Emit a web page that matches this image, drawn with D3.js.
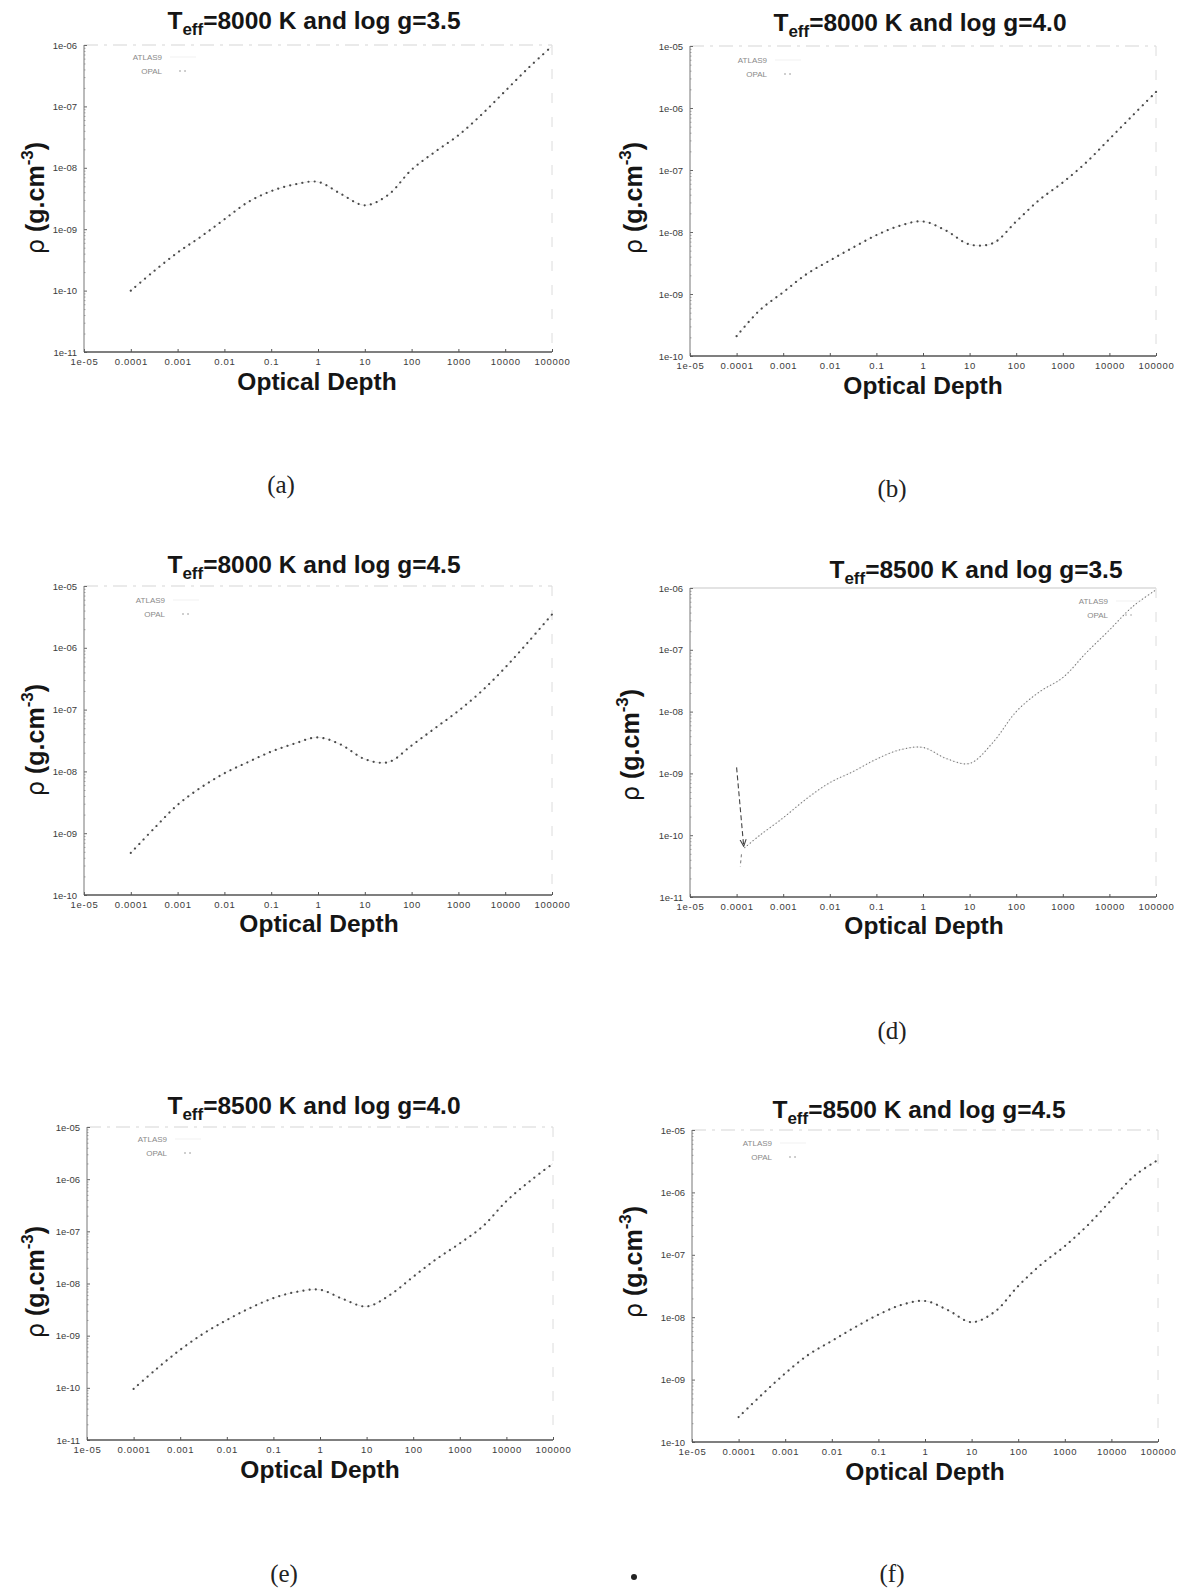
<!DOCTYPE html>
<html>
<head>
<meta charset="utf-8">
<script src="https://cdn.jsdelivr.net/npm/d3@7"></script>
<style>
  body { margin: 0; background: #fff; }
  svg { display: block; }
</style>
</head>
<body>
<svg id="fig" width="1186" height="1590"></svg>
<script>
// Density profiles rho(tau) of model atmospheres, ATLAS9 vs OPAL opacities.

// Optical-depth sampling (shared by all panels except (d), which starts deeper)
const tauGrid  = [1e-4, 3.16e-4, 1e-3, 3.16e-3, 0.01, 0.0316, 0.1, 0.316, 1, 3.16, 10, 31.6, 100, 316, 1000, 3160, 1e4, 3.16e4, 1e5];
const tauGridD = [1.5e-4, 3.16e-4, 1e-3, 3.16e-3, 0.01, 0.0316, 0.1, 0.316, 1, 3.16, 10, 31.6, 100, 316, 1000, 3160, 1e4, 3.16e4, 1e5];

// Density (g cm^-3) at each optical depth
const rhoA = [1.0e-10, 2.09e-10, 4.17e-10, 7.59e-10, 1.45e-9, 2.75e-9, 4.17e-9, 5.37e-9, 5.89e-9, 3.72e-9, 2.45e-9, 3.63e-9, 9.33e-9, 1.82e-8, 3.39e-8, 7.41e-8, 1.78e-7, 4.27e-7, 9.55e-7];
const rhoB = [2.09e-10, 5.5e-10, 1.07e-9, 2.09e-9, 3.47e-9, 5.62e-9, 8.91e-9, 1.26e-8, 1.48e-8, 1.05e-8, 6.3e-9, 6.6e-9, 1.48e-8, 3.31e-8, 6.31e-8, 1.32e-7, 3.16e-7, 7.59e-7, 1.82e-6];
const rhoC = [4.79e-10, 1.2e-9, 2.88e-9, 5.5e-9, 9.33e-9, 1.41e-8, 2.09e-8, 2.82e-8, 3.55e-8, 2.69e-8, 1.58e-8, 1.41e-8, 2.63e-8, 5.01e-8, 9.55e-8, 2.0e-7, 4.79e-7, 1.26e-6, 3.47e-6];
const rhoD = [6.31e-11, 1.0e-10, 1.91e-10, 3.89e-10, 7.08e-10, 1.07e-9, 1.7e-9, 2.4e-9, 2.63e-9, 1.74e-9, 1.45e-9, 3.16e-9, 1.0e-8, 2.09e-8, 3.55e-8, 8.91e-8, 2.09e-7, 5.01e-7, 9.33e-7];
const rhoE = [9.55e-11, 2.34e-10, 5.37e-10, 1.1e-9, 2.0e-9, 3.39e-9, 5.25e-9, 6.92e-9, 7.59e-9, 5.01e-9, 3.63e-9, 6.03e-9, 1.35e-8, 2.95e-8, 5.89e-8, 1.26e-7, 3.8e-7, 9.12e-7, 2.0e-6];
const rhoF = [2.51e-10, 5.75e-10, 1.26e-9, 2.51e-9, 4.17e-9, 6.92e-9, 1.1e-8, 1.58e-8, 1.82e-8, 1.29e-8, 8.32e-9, 1.23e-8, 3.16e-8, 7.08e-8, 1.38e-7, 3.02e-7, 7.59e-7, 1.86e-6, 3.31e-6];

// Model parameters and sub-figure captions
const teffValues = [8000, 8000, 8000, 8500, 8500, 8500];
const loggValues = ["3.5", "4.0", "4.5", "3.5", "4.0", "4.5"];
const captions   = ["(a)", "(b)", "", "(d)", "(e)", "(f)"];

// Axis ranges (density decades) and tick labels
const yDomains = [[1e-11, 1e-6], [1e-10, 1e-5], [1e-10, 1e-5], [1e-11, 1e-6], [1e-11, 1e-5], [1e-10, 1e-5]];
const xTickValues = [1e-5, 1e-4, 1e-3, 1e-2, 0.1, 1, 10, 100, 1000, 1e4, 1e5];
const xTickLabels = ["1e-05", "0.0001", "0.001", "0.01", "0.1", "1", "10", "100", "1000", "10000", "100000"];
const seriesNames = ["ATLAS9", "OPAL"];

// Arrow annotation in panel (d): start and end (tau, rho), plus the short tail below it
const arrowD = [[1.0e-4, 1.25e-9], [1.42e-4, 6.6e-11]];
const tailD  = [[1.27e-4, 4.9e-11], [1.2e-4, 3.1e-11]];

// ---------- layout ----------
const layout = [
  { x0: 84,  x1: 552,  yb: 352,  yt: 45,  title: [314, 20],  xlab: [317, 381],  ylab: [36, 198],   leg: [162, 57],  cap: [281, 485] },
  { x0: 690, x1: 1156, yb: 356,  yt: 46,  title: [920, 22],  xlab: [923, 385],  ylab: [634, 198],  leg: [767, 60],  cap: [892, 489] },
  { x0: 84,  x1: 552,  yb: 895,  yt: 586, title: [314, 564], xlab: [319, 923],  ylab: [36, 740],   leg: [165, 600], cap: [281, 1024] },
  { x0: 690, x1: 1156, yb: 897,  yt: 588, title: [976, 569], xlab: [924, 925],  ylab: [631, 745],  leg: [1108, 601], cap: [892, 1031] },
  { x0: 87,  x1: 553,  yb: 1440, yt: 1127, title: [314, 1105], xlab: [320, 1469], ylab: [36, 1282], leg: [167, 1139], cap: [284, 1574] },
  { x0: 692, x1: 1158, yb: 1442, yt: 1130, title: [919, 1109], xlab: [925, 1471], ylab: [634, 1262], leg: [772, 1143], cap: [892, 1574] }
];

const rhoSeries = [rhoA, rhoB, rhoC, rhoD, rhoE, rhoF];
const tauSeries = [tauGrid, tauGrid, tauGrid, tauGridD, tauGrid, tauGrid];

const svg = d3.select("#fig");
const SANS = "'Liberation Sans', Arial, Helvetica, sans-serif";

const defs = svg.append("defs");
defs.append("marker")
  .attr("id", "arrowHead")
  .attr("viewBox", "0 0 10 10")
  .attr("refX", 9).attr("refY", 5)
  .attr("markerWidth", 7).attr("markerHeight", 7)
  .attr("orient", "auto")
  .append("path")
  .attr("d", "M0,1 L9,5 L0,9")
  .attr("fill", "none")
  .attr("stroke", "#444")
  .attr("stroke-width", 1.4);

const expLabel = v => {
  const e = Math.round(Math.log10(v));
  const a = Math.abs(e);
  return "1e" + (e < 0 ? "-" : "+") + (a < 10 ? "0" + a : a);
};

rhoSeries.forEach((rho, i) => {
  const L = layout[i];
  const g = svg.append("g");
  const x = d3.scaleLog().domain([1e-5, 1e5]).range([L.x0, L.x1]);
  const y = d3.scaleLog().domain(yDomains[i]).range([L.yb, L.yt]);
  const fine = i === 3;

  // faint top and right frame
  g.append("line").attr("x1", L.x0).attr("x2", L.x1).attr("y1", L.yt).attr("y2", L.yt)
    .attr("stroke", fine ? "#c8c8c8" : "#d6d6d6").attr("stroke-width", 1.2)
    .attr("stroke-dasharray", fine ? null : "14 6 3 6");
  g.append("line").attr("x1", L.x1).attr("x2", L.x1).attr("y1", L.yt).attr("y2", L.yb)
    .attr("stroke", "#dcdcdc").attr("stroke-width", 1).attr("stroke-dasharray", "10 14");

  // y decades
  const yMajor = [];
  for (let e = Math.round(Math.log10(yDomains[i][0])); e <= Math.round(Math.log10(yDomains[i][1])); e++) yMajor.push(Math.pow(10, e));
  const yMinor = [];
  yMajor.slice(0, -1).forEach(v => { for (let k = 2; k < 10; k++) yMinor.push(v * k); });

  const yAx = g.append("g").attr("transform", `translate(${L.x0},0)`)
    .call(d3.axisLeft(y).tickValues(yMajor).tickFormat(expLabel).tickSizeInner(-3).tickSizeOuter(0).tickPadding(7));
  yAx.select(".domain").remove();
  yAx.selectAll(".tick line").attr("stroke", "#666");
  yAx.selectAll(".tick text").attr("font-family", SANS).attr("font-size", 9.5).attr("fill", "#3c3c3c");

  const yMin = g.append("g").attr("transform", `translate(${L.x0},0)`)
    .call(d3.axisLeft(y).tickValues(yMinor).tickFormat("").tickSizeInner(-1.5).tickSizeOuter(0));
  yMin.select(".domain").remove();
  yMin.selectAll(".tick line").attr("stroke", "#aaa");

  const xAx = g.append("g").attr("transform", `translate(0,${L.yb})`)
    .call(d3.axisBottom(x).tickValues(xTickValues).tickFormat((d, k) => xTickLabels[k]).tickSizeInner(-3).tickSizeOuter(0).tickPadding(6));
  xAx.select(".domain").remove();
  xAx.selectAll(".tick line").attr("stroke", "#555");
  xAx.selectAll(".tick text").attr("font-family", SANS).attr("font-size", 9.5).attr("fill", "#3c3c3c")
    .attr("letter-spacing", 0.7);

  // left and bottom axis lines
  g.append("line").attr("x1", L.x0).attr("x2", L.x0).attr("y1", L.yt).attr("y2", L.yb)
    .attr("stroke", "#777").attr("stroke-width", 1);
  g.append("line").attr("x1", L.x0).attr("x2", L.x1).attr("y1", L.yb).attr("y2", L.yb)
    .attr("stroke", "#555").attr("stroke-width", 1.5);

  // data
  const pts = tauSeries[i].map((t, k) => [t, rho[k]]);
  const line = d3.line().x(d => x(d[0])).y(d => y(d[1])).curve(d3.curveCatmullRom.alpha(0.5));
  // ATLAS9: thin faint line
  g.append("path").attr("d", line(pts)).attr("fill", "none")
    .attr("stroke", "#e4e4e4").attr("stroke-width", 0.8);
  // OPAL: dotted
  g.append("path").attr("d", line(pts)).attr("fill", "none")
    .attr("stroke", fine ? "#7a7a7a" : "#4a4a4a")
    .attr("stroke-width", fine ? 1.3 : 2.2)
    .attr("stroke-linecap", "round")
    .attr("stroke-dasharray", fine ? "0.01 3.6" : "0.01 6.2");

  // legend
  const [lx, ly] = L.leg;
  const legG = g.append("g").attr("font-family", SANS).attr("font-size", 8).attr("fill", "#8a8a8a");
  seriesNames.forEach((name, k) => {
    legG.append("text").attr("x", lx).attr("y", ly + k * 14 + 3).attr("text-anchor", "end").text(name);
  });
  legG.append("line").attr("x1", lx + 8).attr("x2", lx + 34).attr("y1", ly).attr("y2", ly)
    .attr("stroke", "#eeeeee").attr("stroke-width", 0.8);
  legG.append("line").attr("x1", lx + 18).attr("x2", lx + 28).attr("y1", ly + 14).attr("y2", ly + 14)
    .attr("stroke", fine ? "#999" : "#888").attr("stroke-width", 1.5)
    .attr("stroke-linecap", "round").attr("stroke-dasharray", "0.01 5");

  // title
  const t = g.append("text").attr("x", L.title[0]).attr("y", L.title[1] + 8.5)
    .attr("text-anchor", "middle").attr("font-family", SANS).attr("font-weight", "bold")
    .attr("font-size", 24.5).attr("fill", "#151515");
  t.append("tspan").text("T");
  t.append("tspan").attr("font-size", 17).attr("dy", 6).text("eff");
  t.append("tspan").attr("dy", -6).text(`=${teffValues[i]} K and log g=${loggValues[i]}`);

  // x label
  g.append("text").attr("x", L.xlab[0]).attr("y", L.xlab[1] + 8.5)
    .attr("text-anchor", "middle").attr("font-family", SANS).attr("font-weight", "bold")
    .attr("font-size", 24.5).attr("fill", "#151515").text("Optical Depth");

  // y label
  const yl = g.append("text")
    .attr("transform", `translate(${L.ylab[0] + 8},${L.ylab[1]}) rotate(-90)`)
    .attr("text-anchor", "middle").attr("font-family", SANS)
    .attr("font-size", 25).attr("fill", "#151515");
  yl.append("tspan").attr("font-family", "'DejaVu Sans', sans-serif").attr("font-size", 24).text("ρ");
  yl.append("tspan").attr("font-weight", "bold").text(" (g.cm");
  yl.append("tspan").attr("font-weight", "bold").attr("font-size", 17).attr("dy", -11).text("-3");
  yl.append("tspan").attr("font-weight", "bold").attr("dy", 11).text(")");

  // caption
  if (captions[i]) {
    svg.append("text").attr("x", L.cap[0]).attr("y", L.cap[1] + 8)
      .attr("text-anchor", "middle").attr("font-family", "'Liberation Serif', 'DejaVu Serif', serif")
      .attr("font-size", 25).attr("fill", "#222").text(captions[i]);
  }

  // arrow annotation (panel d)
  if (i === 3) {
    g.append("line")
      .attr("x1", x(arrowD[0][0])).attr("y1", y(arrowD[0][1]))
      .attr("x2", x(arrowD[1][0])).attr("y2", y(arrowD[1][1]))
      .attr("stroke", "#444").attr("stroke-width", 1.1)
      .attr("stroke-dasharray", "5 3")
      .attr("marker-end", "url(#arrowHead)");
    g.append("line")
      .attr("x1", x(tailD[0][0])).attr("y1", y(tailD[0][1]))
      .attr("x2", x(tailD[1][0])).attr("y2", y(tailD[1][1]))
      .attr("stroke", "#777").attr("stroke-width", 1)
      .attr("stroke-dasharray", "3 3");
  }
});

// small printing speck between the bottom captions
svg.append("circle").attr("cx", 634).attr("cy", 1577).attr("r", 3).attr("fill", "#222");
</script>
</body>
</html>
